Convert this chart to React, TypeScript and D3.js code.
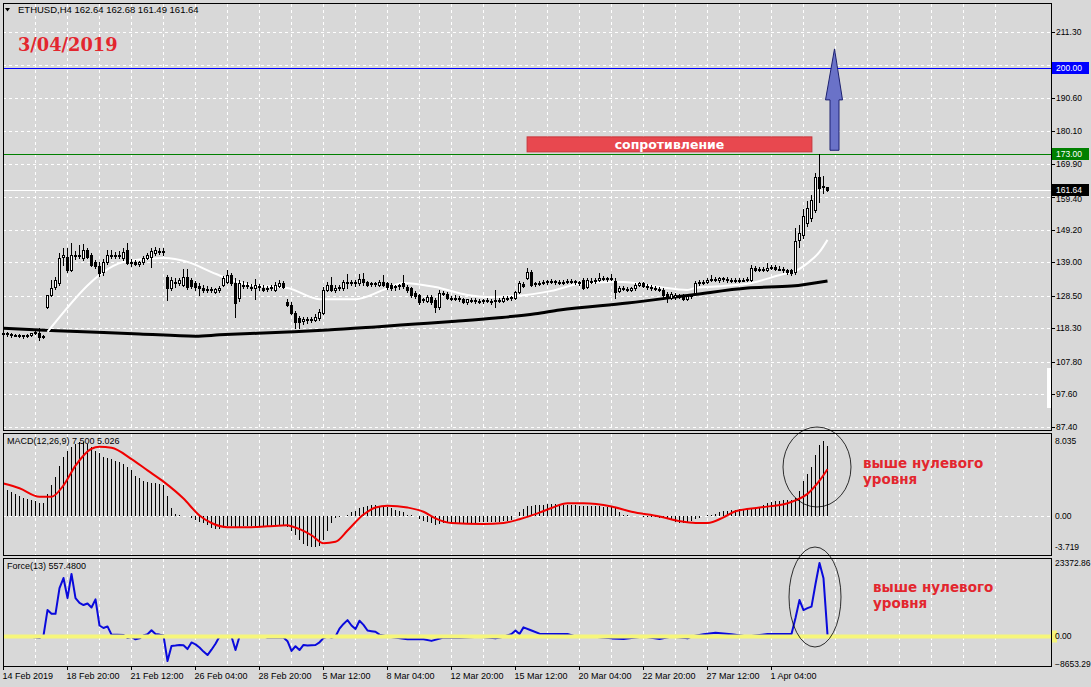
import React from 'react';
import * as d3 from 'd3';

// ---- data ----
// H4 candles, one per bar: [open, high, low, close]
const candles: [number, number, number, number][] = [
  [116.8, 117.5, 116.0, 117.0], [116.9, 117.3, 116.0, 116.5], [116.5, 116.8, 115.6, 116.3], [116.3, 116.7, 115.8, 116.2],
  [116.2, 116.6, 115.5, 116.0], [116.0, 116.4, 115.3, 116.2], [116.2, 116.5, 115.6, 116.3], [116.3, 117.0, 116.0, 116.8],
  [116.8, 117.5, 116.5, 117.2], [117.0, 118.3, 114.8, 115.6], [115.6, 116.2, 115.3, 116.0], [125.0, 128.9, 124.8, 128.8],
  [128.8, 133.5, 128.5, 131.0], [131.3, 134.5, 130.8, 133.5], [132.6, 141.9, 132.0, 140.4], [140.8, 143.5, 138.2, 141.2],
  [140.7, 143.5, 136.0, 136.6], [136.6, 145.1, 136.2, 141.3], [141.3, 142.5, 140.0, 141.5], [141.5, 144.5, 140.5, 141.0],
  [140.4, 144.8, 139.8, 142.9], [142.9, 143.5, 140.3, 140.7], [141.3, 142.0, 137.8, 138.2], [139.2, 139.8, 137.3, 137.9],
  [138.0, 139.1, 134.8, 135.7], [136.0, 140.0, 135.2, 139.1], [139.1, 143.0, 138.5, 141.3], [141.3, 142.8, 140.5, 141.5],
  [141.5, 142.3, 140.5, 141.0], [141.0, 142.6, 140.5, 141.4], [140.4, 143.5, 139.9, 142.3], [142.9, 145.0, 138.5, 138.9],
  [139.0, 140.0, 138.0, 139.2], [139.0, 139.8, 138.2, 138.6], [138.6, 139.5, 138.0, 139.0], [139.0, 141.0, 138.5, 140.4],
  [140.4, 142.0, 140.0, 141.3], [140.7, 143.5, 137.5, 142.6], [142.0, 143.8, 141.5, 142.9], [142.5, 143.6, 141.6, 142.6],
  [142.6, 143.5, 141.5, 142.4], [134.4, 135.2, 127.2, 131.0], [131.0, 134.5, 130.5, 133.5], [133.0, 134.0, 131.3, 132.6],
  [132.6, 134.0, 132.0, 133.5], [131.9, 136.9, 131.5, 134.4], [134.4, 136.9, 130.8, 131.3], [133.5, 134.0, 131.0, 131.6],
  [132.6, 133.3, 130.5, 131.3], [131.6, 132.5, 128.8, 130.9], [131.0, 131.8, 129.8, 130.4], [130.5, 131.5, 129.7, 130.8],
  [130.6, 131.3, 129.6, 130.3], [129.7, 131.0, 129.3, 130.6], [130.4, 131.5, 129.8, 131.0], [131.9, 134.8, 131.5, 134.1],
  [132.9, 136.5, 132.5, 135.1], [135.1, 135.8, 132.0, 132.6], [132.6, 134.0, 121.9, 126.3], [127.8, 133.5, 126.8, 132.6],
  [132.0, 133.3, 131.0, 131.8], [131.8, 132.8, 131.0, 131.5], [131.4, 132.3, 130.5, 131.1], [131.0, 133.8, 127.5, 132.0],
  [131.5, 132.2, 130.5, 131.2], [131.0, 131.8, 130.0, 130.5], [130.6, 131.5, 130.0, 130.9], [131.0, 132.0, 130.4, 131.3],
  [130.4, 133.0, 130.0, 131.9], [131.6, 133.5, 131.3, 132.6], [132.6, 133.2, 131.0, 131.3], [126.6, 127.5, 125.3, 125.7],
  [125.7, 126.5, 122.8, 123.2], [123.2, 123.8, 118.5, 120.3], [121.6, 122.2, 118.4, 120.3], [120.6, 121.8, 119.8, 121.2],
  [121.2, 122.0, 120.0, 121.3], [121.3, 122.0, 120.2, 121.0], [120.9, 122.8, 120.5, 121.9], [121.6, 124.5, 121.0, 123.5],
  [123.2, 131.3, 122.8, 130.4], [130.4, 133.0, 130.0, 131.9], [131.9, 134.4, 130.0, 130.4], [130.4, 131.8, 129.8, 131.0],
  [131.0, 132.0, 130.3, 131.2], [131.0, 133.5, 130.5, 132.9], [132.6, 135.5, 131.0, 132.8], [132.8, 133.6, 132.0, 132.6],
  [132.6, 133.5, 131.5, 132.8], [132.6, 135.5, 132.0, 133.8], [133.8, 135.7, 132.0, 132.9], [132.9, 133.3, 131.5, 131.9],
  [132.2, 133.0, 131.5, 132.5], [132.5, 133.0, 131.7, 132.3], [132.0, 133.5, 131.5, 132.9], [132.9, 135.2, 131.5, 131.9],
  [132.6, 133.0, 130.8, 131.3], [132.0, 132.6, 130.5, 131.0], [131.2, 132.0, 130.3, 131.5], [131.5, 132.2, 130.8, 131.8],
  [132.6, 135.0, 131.0, 131.6], [131.3, 131.8, 129.8, 130.4], [131.0, 131.3, 128.2, 128.8], [129.5, 130.0, 127.9, 128.5],
  [128.8, 129.2, 126.0, 126.6], [127.2, 128.0, 126.5, 127.5], [127.0, 128.8, 126.5, 128.2], [128.2, 128.8, 126.0, 126.6],
  [127.2, 127.8, 123.5, 125.0], [125.0, 130.3, 124.5, 129.5], [129.5, 130.2, 128.8, 129.2], [129.2, 129.8, 127.5, 127.9],
  [127.9, 128.6, 127.2, 128.0], [128.0, 128.8, 127.2, 127.7], [127.8, 128.5, 127.0, 127.4], [127.5, 128.0, 126.3, 126.6],
  [126.6, 127.6, 126.0, 127.4], [127.3, 128.0, 126.5, 127.0], [127.0, 127.8, 126.3, 127.2], [127.0, 127.6, 126.3, 126.8],
  [126.8, 127.6, 126.3, 127.2], [127.1, 127.8, 126.5, 126.9], [126.9, 127.5, 126.0, 126.7], [126.9, 130.3, 125.0, 127.3],
  [127.2, 127.8, 126.5, 127.0], [127.0, 128.6, 126.6, 128.0], [128.0, 128.6, 127.3, 127.7], [127.8, 128.5, 127.2, 128.1],
  [128.0, 130.2, 127.6, 129.7], [129.7, 133.2, 129.3, 132.6], [132.2, 132.8, 131.3, 131.6], [134.1, 137.3, 133.8, 136.0],
  [136.0, 136.5, 131.5, 131.9], [132.2, 133.0, 131.7, 132.5], [132.5, 133.2, 132.0, 132.6], [132.6, 133.4, 132.1, 132.9],
  [132.9, 133.6, 132.4, 133.2], [133.2, 133.8, 132.5, 133.1], [133.1, 133.6, 132.3, 132.8], [132.8, 133.5, 132.2, 133.0],
  [133.0, 133.6, 132.4, 132.9], [132.9, 133.8, 132.5, 133.3], [133.3, 133.9, 132.7, 133.2], [133.2, 133.6, 132.3, 132.8],
  [132.8, 133.3, 132.0, 132.6], [133.5, 134.2, 130.6, 131.0], [131.3, 134.0, 130.9, 133.5], [133.2, 134.0, 132.6, 133.1],
  [133.1, 134.2, 132.7, 133.4], [133.6, 135.7, 133.2, 134.1], [134.1, 134.8, 133.5, 133.8], [133.8, 134.6, 133.3, 134.0],
  [134.0, 135.3, 133.6, 134.2], [133.2, 134.0, 127.9, 129.7], [130.0, 131.6, 129.6, 131.0], [130.9, 131.5, 130.3, 130.7],
  [130.7, 131.2, 130.0, 130.5], [130.5, 131.2, 130.1, 131.0], [130.9, 132.5, 130.5, 131.9], [131.9, 133.0, 131.5, 132.6],
  [132.6, 133.0, 131.2, 131.6], [131.6, 132.2, 130.8, 131.3], [131.3, 131.8, 130.5, 130.9], [131.0, 131.7, 130.4, 130.7],
  [130.7, 131.3, 130.0, 130.3], [130.4, 131.0, 128.3, 128.8], [129.2, 129.6, 126.6, 127.9], [128.0, 129.8, 127.6, 129.2],
  [128.2, 129.3, 127.7, 128.8], [128.6, 129.2, 127.8, 128.4], [128.5, 129.0, 127.2, 127.6], [127.6, 129.0, 127.3, 128.5],
  [128.5, 129.2, 127.8, 128.7], [129.4, 133.2, 129.0, 132.6], [132.6, 133.4, 132.0, 132.9], [132.9, 133.5, 132.3, 133.0],
  [133.0, 134.0, 132.6, 133.6], [133.6, 135.0, 133.2, 133.9], [133.8, 134.5, 133.2, 133.5], [133.5, 134.5, 133.0, 134.1],
  [134.1, 134.6, 133.3, 133.8], [133.8, 134.3, 133.0, 133.5], [133.5, 134.2, 132.9, 133.6], [133.6, 134.2, 133.0, 133.4],
  [133.4, 134.0, 132.8, 133.6], [133.6, 134.2, 133.1, 133.5], [133.5, 134.3, 133.1, 133.9], [133.5, 138.2, 133.2, 137.3],
  [137.3, 137.9, 136.3, 136.8], [136.8, 137.5, 136.3, 137.0], [137.0, 137.6, 136.2, 136.6], [136.6, 138.9, 136.2, 137.4],
  [137.4, 138.1, 136.9, 137.6], [137.6, 138.2, 136.7, 137.1], [137.1, 137.8, 136.5, 137.0], [137.0, 137.5, 136.0, 136.5],
  [136.5, 137.0, 135.4, 136.0], [136.5, 137.0, 135.2, 135.7], [135.9, 149.8, 135.5, 145.7], [146.2, 150.8, 143.9, 148.3],
  [147.6, 155.8, 146.8, 153.6], [151.4, 158.4, 150.4, 156.1], [152.9, 160.2, 152.0, 158.5], [155.5, 167.2, 154.8, 165.8],
  [165.8, 173.0, 157.9, 162.4], [162.6, 166.1, 160.9, 162.9], [162.64, 162.68, 161.49, 161.64],
];

// moving averages: [bar, price]
const maWhite: [number, number][] = [
  [11, 117.2], [31, 139.5], [40, 140.4], [46, 139.2], [52, 136.0], [57, 133.5], [62, 131.9], [71, 131.0],
  [79, 127.5], [88, 127.5], [95, 130.4], [100, 132.6], [108, 131.3], [116, 128.8], [121, 128.2], [128, 128.5],
  [137, 130.1], [144, 132.3], [152, 132.9], [155, 132.9], [164, 131.3], [171, 130.4], [173, 131.0], [180, 131.6],
  [187, 132.6], [195, 135.4], [198, 136.3], [201, 138.8], [204, 142.3], [206, 146.1],
];
const maBlack: [number, number][] = [
  [0, 118.4], [9, 117.8], [15, 117.5], [34, 116.6], [48, 115.9], [54, 116.3], [71, 117.2], [81, 117.8],
  [93, 118.8], [103, 119.7], [113, 120.6], [123, 121.6], [133, 122.9], [139, 124.1], [156, 126.3],
  [172, 128.8], [186, 131.0], [197, 131.6], [206, 133.2],
];

// MACD histogram, one per bar
const macdHist: number[] = [
  3.0, 2.8, 2.6, 2.4, 2.2, 2.0, 1.9, 1.8, 1.6, 1.4, 1.4, 2.4, 3.3, 4.2, 5.4, 6.3, 7.0, 7.4, 7.7, 7.9,
  7.9, 7.7, 7.4, 7.0, 6.7, 6.3, 6.2, 6.1, 5.9, 5.8, 5.6, 5.3, 4.9, 4.3, 4.1, 3.8, 3.7, 3.6, 3.6, 3.5,
  3.3, 2.2, 0.85, 0.3, 0.1, 0.05, 0, -0.2, -0.4, -0.55, -0.7, -0.95, -1.2, -1.35, -1.35, -1.25, -1.05, -1.05, -1.2, -1.1,
  -1.05, -1.0, -1.0, -1.05, -1.05, -1.0, -1.0, -1.05, -1.0, -0.95, -0.95, -1.1, -1.5, -2.0, -2.5, -2.9, -3.1, -3.2, -3.2, -3.1,
  -2.5, -1.6, -0.75, -0.2, -0.1, 0.0, 0.2, 0.5, 0.6, 0.95, 1.05, 1.15, 1.2, 1.2, 1.15, 1.15, 1.05, 0.85, 0.65, 0.55,
  0.45, 0.2, 0.1, 0.0, -0.3, -0.5, -0.6, -0.7, -0.9, -0.85, -0.75, -0.75, -0.7, -0.7, -0.7, -0.7, -0.65, -0.65, -0.65, -0.6,
  -0.6, -0.6, -0.6, -0.55, -0.55, -0.5, -0.5, -0.4, 0.0, 0.5, 0.8, 1.1, 1.15, 1.2, 1.2, 1.25, 1.35, 1.3, 1.3, 1.25,
  1.25, 1.2, 1.2, 1.2, 1.15, 1.1, 1.15, 1.1, 1.1, 1.1, 1.05, 1.0, 1.0, 0.85, 0.5, 0.2, 0.1, 0.05, 0.05, 0.0,
  -0.05, -0.05, -0.1, -0.1, -0.15, -0.2, -0.3, -0.4, -0.55, -0.7, -0.7, -0.7, -0.5, -0.3, -0.2, 0.0, 0.15, 0.2, 0.3, 0.5,
  0.6, 0.6, 0.65, 0.7, 0.75, 0.8, 0.85, 0.9, 0.95, 1.05, 1.2, 1.4, 1.55, 1.6, 1.65, 1.7, 1.7, 1.7, 2.0, 2.7,
  3.8, 4.5, 5.3, 6.5, 7.6, 8.035, 7.5,
];
// MACD signal: [bar, value]
const macdSignal: [number, number][] = [
  [0, 3.5], [4, 3.0], [9, 2.1], [12, 2.1], [15, 3.3], [18, 5.4], [22, 7.2], [24, 7.4], [27, 7.3], [32, 6.1],
  [36, 4.9], [40, 3.7], [45, 1.9], [49, 0.1], [52, -0.7], [56, -1.15], [61, -1.15], [66, -1.05], [71, -0.95],
  [72, -1.05], [77, -2.0], [80, -2.85], [83, -2.7], [86, -1.5], [90, 0.2], [93, 0.95], [96, 1.15], [101, 0.95],
  [105, 0.5], [108, -0.2], [112, -0.7], [120, -0.8], [125, -0.7], [129, -0.3], [134, 0.4], [137, 0.9], [141, 1.4],
  [145, 1.4], [152, 1.05], [157, 0.5], [164, 0], [169, -0.5], [173, -0.7], [176, -0.7], [180, -0.1], [183, 0.55],
  [189, 0.95], [196, 1.4], [198, 1.7], [201, 2.4], [204, 3.8], [206, 5.026],
];

// Force index (13): [bar, value]
const forceIndex: [number, number][] = [
  [6, 0], [9, -400], [10, 300], [11, 8400], [12, 7200], [13, 7200], [14, 15400], [15, 18600], [16, 12200],
  [17, 19900], [18, 12200], [19, 10700], [20, 10000], [21, 10500], [22, 9200], [23, 11800], [24, 3500], [25, 2700],
  [26, 3200], [27, 600], [30, 500], [31, -500], [32, -100], [33, -900], [34, -600], [35, 300], [36, 700], [37, 2000],
  [38, 800], [39, 600], [40, 300], [41, -7800], [42, -3000], [43, -2900], [44, -2700], [45, -2800], [46, -4000],
  [47, -1900], [48, -2500], [49, -3500], [50, -4800], [51, -5900], [52, -4200], [53, -2300], [54, 0], [57, 0],
  [58, -4300], [59, 0], [65, 0], [66, -300], [70, -300], [71, -1500], [72, -4600], [73, -3100], [74, -4300],
  [75, -2700], [76, -2900], [77, -2800], [78, -2700], [79, -1850], [80, -500], [81, 0], [82, -300], [83, 0],
  [84, 2500], [85, 4000], [86, 5200], [87, 3500], [88, 2400], [89, 5000], [90, 3700], [91, 1900], [92, 1700],
  [93, 1500], [94, 600], [96, 0], [101, -900], [105, -900], [107, -1400], [110, -300], [114, -400], [119, -100],
  [123, -600], [125, -100], [127, 800], [128, 1900], [129, 800], [130, 2900], [132, 1900], [134, 900], [141, 800],
  [143, 0], [147, 0], [152, -600], [155, -800], [160, 0], [164, -800], [167, 0], [171, -600], [172, 0], [175, 700],
  [178, 1200], [182, 700], [186, 0], [191, 800], [197, 800], [198, 5900], [199, 11600], [200, 8400], [201, 9000],
  [202, 9500], [203, 16700], [204, 23372.86], [205, 18500], [206, 557.48],
];

const priceTicks = [211.3, 190.6, 180.1, 169.9, 159.4, 149.2, 139.0, 128.5, 118.3, 107.8, 97.6, 87.4];
const hiddenGridPrice = 200.9; // its label sits under the 200.00 tag
const macdTicks = [8.035, 0, -3.719];
const forceTicks = [23372.86, 0, -8653.29];
const timeTickBars = [0, 16, 32, 48, 64, 80, 96, 112, 128, 144, 160, 176, 192];
const timeLabels = [
  '14 Feb 2019', '18 Feb 20:00', '21 Feb 12:00', '26 Feb 04:00', '28 Feb 20:00', '5 Mar 12:00', '8 Mar 04:00',
  '12 Mar 20:00', '15 Mar 12:00', '20 Mar 04:00', '22 Mar 20:00', '27 Mar 12:00', '1 Apr 04:00',
];
const targetLevel = 200.0;
const resistanceLevel = 173.0;
const lastPrice = 161.64;

// ---- layout ----
const W = 1091;
const H = 687;
const L = 3;
const R = 1051;
const mainP = { top: 3, bottom: 430 };
const macdP = { top: 433, bottom: 555 };
const forceP = { top: 558, bottom: 666 };
const BG = '#d8d8d8';
const uiFont = "'Liberation Sans', Arial, sans-serif";

const x = d3.scaleLinear().domain([0, 1]).range([3.5, 7.5]);
const yP = d3.scaleLinear().domain([87.4, 211.3]).range([427, 32]);
const yM = d3.scaleLinear().domain([-3.719, 8.035]).range([551.4, 440.9]);
const yF = d3.scaleLinear().domain([-8653.29, 23372.86]).range([663.7, 563]);

const fmt2 = d3.format('.2f');

export default function App() {
  const gridX = d3.range(8, 256, 8).map(i => x(i)).filter(v => v < R);
  const maLine = d3.line<[number, number]>().curve(d3.curveMonotoneX).x(d => x(d[0])).y(d => yP(d[1]));
  const sigLine = d3.line<[number, number]>().curve(d3.curveMonotoneX).x(d => x(d[0])).y(d => yM(d[1]));
  const forceLine = d3.line<[number, number]>().x(d => x(d[0])).y(d => yF(d[1]));
  const snap = (v: number) => Math.round(v) + 0.5;

  const dash = { stroke: '#ffffff', strokeDasharray: '3,3', strokeWidth: 1 };

  const arrowX = x(207.75);
  const arrowPts = [
    [arrowX - 4.5, yP(174.2)], [arrowX + 4.5, yP(174.2)], [arrowX + 4.5, yP(190)], [arrowX + 8, yP(190)],
    [arrowX, yP(206)], [arrowX - 9, yP(190)], [arrowX - 4.5, yP(190)],
  ].map(p => p.join(',')).join(' ');

  return (
    <svg width={W} height={H} style={{ position: 'absolute', left: 0, top: 0 }} fontFamily={uiFont}>
      <rect x={0} y={0} width={W} height={H} fill={BG} />

      {/* grid */}
      {[mainP, macdP, forceP].map((p, k) => (
        <g key={k} shapeRendering="crispEdges">
          {gridX.map(gx => (
            <line key={gx} x1={gx} x2={gx} y1={p.top + 1} y2={p.bottom} {...dash} />
          ))}
        </g>
      ))}
      <g shapeRendering="crispEdges">
        {[...priceTicks, hiddenGridPrice].map(t => (
          <line key={t} x1={L} x2={R} y1={snap(yP(t))} y2={snap(yP(t))} {...dash} />
        ))}
        <line x1={L} x2={R} y1={snap(yM(0))} y2={snap(yM(0))} {...dash} />
      </g>

      {/* levels in main window */}
      <g shapeRendering="crispEdges">
        <line x1={L} x2={R} y1={snap(yP(targetLevel))} y2={snap(yP(targetLevel))} stroke="#0000ff" />
        <line x1={L} x2={R} y1={snap(yP(resistanceLevel))} y2={snap(yP(resistanceLevel))} stroke="#008000" />
        <line x1={L} x2={R} y1={snap(yP(lastPrice))} y2={snap(yP(lastPrice))} stroke="#ffffff" />
      </g>

      {/* moving averages */}
      <path d={maLine(maBlack) || ''} fill="none" stroke="#000" strokeWidth={3} />
      <path d={maLine(maWhite) || ''} fill="none" stroke="#ffffff" strokeWidth={2} />

      {/* candles */}
      <g shapeRendering="crispEdges">
        {candles.map((c, i) => {
          const [o, h, l, cl] = c;
          const cx = x(i);
          const top = Math.round(yP(Math.max(o, cl)));
          const bot = Math.round(yP(Math.min(o, cl)));
          const bull = cl >= o;
          return (
            <g key={i}>
              <line x1={cx} x2={cx} y1={Math.round(yP(h))} y2={Math.round(yP(l)) + 1} stroke="#000" />
              <rect x={cx - 1} y={top + 0.5} width={2} height={Math.max(1, bot - top)}
                fill={bull ? '#ffffff' : '#000'} stroke="#000" />
            </g>
          );
        })}
      </g>

      {/* MACD */}
      <g shapeRendering="crispEdges">
        {macdHist.map((v, i) => (
          <line key={i} x1={x(i)} x2={x(i)} y1={Math.round(yM(0))} y2={Math.round(yM(v))} stroke="#000" />
        ))}
      </g>
      <path d={sigLine(macdSignal) || ''} fill="none" stroke="#f00000" strokeWidth={2} />

      {/* Force */}
      <path d={forceLine(forceIndex) || ''} fill="none" stroke="#0a0adc" strokeWidth={2} strokeLinejoin="round" />
      <line x1={L} x2={R} y1={yF(0)} y2={yF(0)} stroke="#f6f67a" strokeWidth={4} />

      {/* panel frames */}
      <g fill="none" stroke="#000" shapeRendering="crispEdges">
        {[mainP, macdP, forceP].map((p, k) => (
          <rect key={k} x={L + 0.5} y={p.top + 0.5} width={R - L} height={p.bottom - p.top} />
        ))}
      </g>
      <rect x={1047} y={368} width={4} height={40} fill="#ffffff" />

      {/* right axis labels */}
      <g fontSize={8.5} fill="#000">
        {priceTicks.map(t => (
          <g key={t}>
            <line x1={R} x2={R + 4} y1={snap(yP(t))} y2={snap(yP(t))} stroke="#000" shapeRendering="crispEdges" />
            <text x={R + 5} y={t === 159.4 ? yP(t) + 2 : yP(t)} dy="0.35em">{fmt2(t)}</text>
          </g>
        ))}
        {macdTicks.map((t, k) => (
          <text key={t} x={R + 4} y={k === 2 ? yM(t) - 4 : yM(t)} dy="0.35em">{t === 0 ? '0.00' : String(t)}</text>
        ))}
        <rect x={R + 1} y={yF(0) - 6} width={5} height={12} fill="#f6f67a" />
        {forceTicks.map(t => (
          <text key={t} x={R + 4} y={yF(t)} dy="0.35em">{fmt2(t)}</text>
        ))}
      </g>

      {/* price tags */}
      {[
        { v: targetLevel, bg: '#0000ff' },
        { v: resistanceLevel, bg: '#008000' },
        { v: lastPrice, bg: '#000000' },
      ].map(t => (
        <g key={t.v}>
          <rect x={R + 1} y={Math.round(yP(t.v)) - 6} width={37} height={12} fill={t.bg} />
          <text x={R + 5} y={yP(t.v)} dy="0.35em" fontSize={8.5} fill="#ffffff">{fmt2(t.v)}</text>
        </g>
      ))}

      {/* time axis */}
      <g fontSize={9} fill="#000">
        {timeTickBars.map((b, k) => (
          <g key={b}>
            <line x1={x(b)} x2={x(b)} y1={forceP.bottom} y2={forceP.bottom + 4} stroke="#000" shapeRendering="crispEdges" />
            <text x={x(b) - 1} y={676} dy="0.35em">{timeLabels[k]}</text>
          </g>
        ))}
      </g>

      {/* window titles */}
      <path d="M5,8 L10,8 L7.5,11.5 Z" fill="#000" />
      <text x={18} y={10} dy="0.35em" fontSize={9.5}>ETHUSD,H4  162.64 162.68 161.49 161.64</text>
      <text x={7} y={441} dy="0.35em" fontSize={9}>MACD(12,26,9) 7.500 5.026</text>
      <text x={7} y={566} dy="0.35em" fontSize={9}>Force(13) 557.4800</text>

      {/* annotations */}
      <text x={18} y={51} fontFamily="'DejaVu Serif', serif" fontWeight="bold" fontSize={17.8} fill="#e3262e">3/04/2019</text>
      <rect x={x(130.9)} y={yP(178.4)} width={x(202.1) - x(130.9)} height={yP(173.7) - yP(178.4)}
        fill="#e8484f" stroke="#c8343a" />
      <text x={(x(130.9) + x(202.1)) / 2} y={(yP(178.4) + yP(173.7)) / 2} dy="0.35em" textAnchor="middle"
        fontFamily="'DejaVu Sans', sans-serif" fontWeight="bold" fontSize={12.5} fill="#ffffff">сопротивление</text>
      <polygon points={arrowPts} fill="#6a72c8" stroke="#1c2070" strokeWidth={1} />

      <ellipse cx={817} cy={467} rx={34} ry={40} fill="none" stroke="#000" strokeWidth={0.8} />
      <ellipse cx={815} cy={597} rx={26} ry={50} fill="none" stroke="#000" strokeWidth={0.8} />
      <g fontFamily="'DejaVu Sans', sans-serif" fontWeight="bold" fontSize={13.5} fill="#e3262e">
        <text x={863} y={463} dy="0.35em">выше нулевого</text>
        <text x={863} y={479} dy="0.35em">уровня</text>
        <text x={873} y={587} dy="0.35em">выше нулевого</text>
        <text x={873} y={603} dy="0.35em">уровня</text>
      </g>
    </svg>
  );
}
